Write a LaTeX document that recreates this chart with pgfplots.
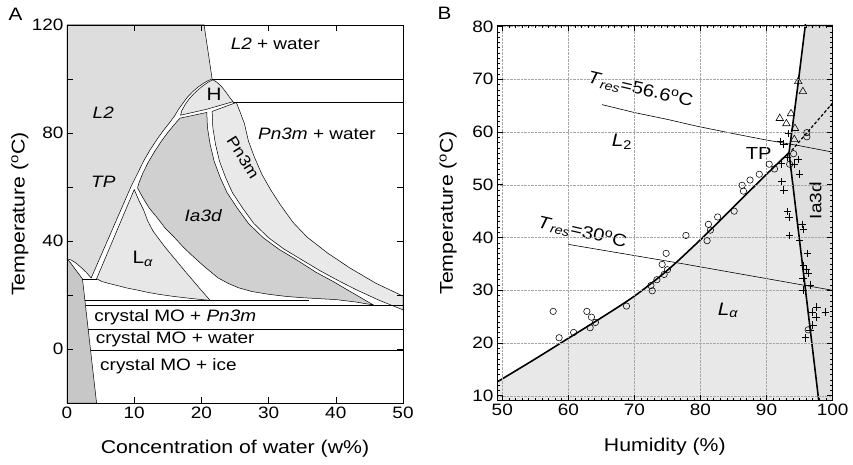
\documentclass[border=0pt]{standalone}
\usepackage{pgfplots}
\pgfplotsset{compat=1.18}
\usepackage{fontspec}
\setmainfont{Liberation Sans}[FakeStretch=1.15]
\definecolor{cL2}{gray}{0.865}
\definecolor{cIa}{gray}{0.815}
\definecolor{cLa}{gray}{0.905}
\definecolor{cPn}{gray}{0.915}
\definecolor{cH}{gray}{0.905}
\definecolor{cCr}{gray}{0.78}
\definecolor{cBLa}{gray}{0.91}
\definecolor{cBIa}{gray}{0.875}
\newcommand{\lbl}{\fontsize{16.5}{19}\selectfont}
\newcommand{\axl}{\fontsize{18.5}{21}\selectfont}
\begin{document}
\begin{tikzpicture}
\path[use as bounding box] (-67pt,-61pt) rectangle (786pt,403pt);
\pgfplotsset{
  common/.style={
    scale only axis, anchor=south west,
    tick align=inside, xtick pos=both, ytick pos=both,
    axis on top,
    /pgf/number format/assume math mode=true,
    tick label style={font=\fontsize{16.5}{19}\selectfont},
    axis line style={line width=0.8pt},
    every tick/.style={black, line width=0.6pt},
  }
}
% ---------------- Panel A ----------------
\begin{axis}[common, at={(0pt,0pt)}, width=336pt, height=378pt,
  xmin=0, xmax=50, ymin=-20, ymax=120,
  xtick={0,10,...,50}, ytick={0,40,80,120}, minor ytick={20,60,100},
  major tick length=6pt, minor tick length=6pt,
  xlabel={Concentration of water (w\%)},
  ylabel={Temperature (\textsuperscript{o}C)},
  every axis x label/.style={at={(axis description cs:0.5,-0.12)},anchor=center,font=\axl},
  every axis y label/.style={at={(axis description cs:-0.14,0.5)},rotate=90,anchor=center,font=\axl},
]
% L2
\addplot[fill=cL2, draw=black, line width=0.5pt] coordinates {
 (0,120)(20.4,120)(21.6,100)
 (21.0,99.4)(20.3,98.4)(19.5,97.0)(18.7,95.3)(18.0,93.5)(17.3,91.2)(16.6,88.8)(16.0,86.3)
 (15.2,83.6)(14.3,80.8)(13.3,77.3)(12.3,73.5)(11.4,69.6)(10.6,65.5)(9.9,62)(9.5,60.0)
 (3.6,26.3)(2.9,28.3)(2.1,30.2)(1.3,31.9)(0.6,33.0)(0,33.4)} -- cycle;
% crystal
\addplot[fill=cCr, draw=black, line width=0.5pt] coordinates {
 (0,33.4)(0.5,32.0)(1.0,30.3)(1.6,28.3)(2.3,26.0)(4.4,-20)(0,-20)} -- cycle;
% L alpha
\addplot[fill=cLa, draw=black, line width=0.5pt] coordinates {
 (10.0,59.0)(4.4,26.0)
 (5.2,25.0)(6.2,24.3)(7.5,23.5)(8.9,22.6)(10.5,21.8)(12.2,20.9)(13.8,20.2)(15.8,19.5)(17.8,18.9)(19.7,18.4)(21.3,18.0)
 (20.0,21.7)(18.8,25.2)(17.5,29.0)(16.3,32.6)(15.4,35.3)(14.5,38.0)(13.6,41.0)(12.8,43.7)(12.0,47.5)(11.4,51.5)(10.7,55.0)(10.1,58.5)} -- cycle;
% Ia3d
\addplot[fill=cIa, draw=black, line width=0.5pt] coordinates {
 (16.8,85.5)(16.0,83.2)(15.0,80.2)(14.0,76.8)(13.0,73.0)(12.1,69.2)(11.3,65.2)(10.7,61.5)(10.5,59.6)
 (11.3,56.0)(12.2,52.3)(13.3,49.0)(14.6,44.8)(16.1,41.0)(17.4,37.5)(18.8,34.2)(20.5,30.4)(22.5,26.3)(24.0,24.3)(25.5,22.7)(27.5,21.3)(29.9,20.3)(32.5,19.5)(35,19.0)(40,18.3)(43,17.4)(45.6,16.3)
 (42.0,21.5)(39.6,25.0)(37.0,28.5)(34.5,32.5)(31.5,37.0)(29.2,41.2)(27.0,46.5)(25.3,52.3)(23.8,58.0)(22.8,63.5)(21.9,69.5)(21.3,75.8)(20.9,82.0)(20.8,87.6)} -- cycle;
% Pn3m
\addplot[fill=cPn, draw=black, line width=0.5pt] coordinates {
 (21.6,88.0)(25.2,91.3)
 (25.8,87.5)(26.4,83.5)(27.0,77.0)(27.9,71.0)(29.0,64.7)(30.3,59.0)(31.7,53.6)(33.6,47.0)(35.7,41.5)(38.8,35.5)(42.1,30.0)(46.0,24.3)(50,19.6)
 (50,14.5)
 (46.5,18.0)(43.0,22.0)(40.4,25.3)(37.8,28.8)(35.3,32.5)(32.3,37.0)(30.0,41.2)(27.8,46.5)(26.1,52.3)(24.6,58.0)(23.6,63.5)(22.7,69.5)(22.1,75.8)(21.7,82.0)} -- cycle;
% H
\addplot[fill=cH, draw=black, line width=0.5pt] coordinates {
 (21.6,99.6)(21.0,98.8)(20.3,97.6)(19.6,96.2)(18.9,94.6)(18.2,92.7)(17.6,90.6)(17.1,88.4)(16.9,86.6)
 (20.8,88.8)(24.7,91.6)
 (24.2,93.2)(23.6,95.3)(23.0,97.2)(22.3,98.8)(21.8,99.6)} -- cycle;
% horizontal boundaries
\addplot[black, line width=0.5pt] coordinates {(21.6,100)(50,100)};
\addplot[black, line width=0.5pt] coordinates {(24.7,91.5)(50,91.5)};
\addplot[black, line width=0.5pt] coordinates {(2.3,26.0)(4.4,26.0)};
\addplot[black, line width=0.5pt] coordinates {(2.665,18.0)(36,18.0)};
\addplot[black, line width=0.5pt] coordinates {(2.757,16.1)(50,16.1)};
\addplot[black, line width=0.5pt] coordinates {(3.14,7.5)(50,7.5)};
\addplot[black, line width=0.5pt] coordinates {(3.50,-0.3)(50,-0.3)};
% labels
\node[font=\lbl] at (31,113) {\textit{L2} + water};
\node[font=\lbl] at (5.4,87.4) {\textit{L2}};
\node[font=\lbl] at (5.4,62) {\textit{TP}};
\node[font=\fontsize{18}{20}\selectfont] at (21.9,94.2) {H};
\node[font=\lbl] at (37.2,79.6) {\textit{Pn3m} + water};
\node[font=\fontsize{15.5}{18}\selectfont, rotate=-58, inner sep=0pt] at (26.2,70.9) {Pn3m};
\node[font=\lbl] at (20.3,49.3) {\textit{Ia3d}};
\node[font=\fontsize{18}{20}\selectfont] at (11.3,33.3) {L\textsubscript{\textit{α}}};
\node[font=\lbl] at (16.1,11.9) {crystal MO + \textit{Pn3m}};
\node[font=\lbl] at (16.1,3.6) {crystal MO + water};
\node[font=\lbl] at (15.1,-6.3) {crystal MO + ice};
\end{axis}
% ---------------- Panel B ----------------
\begin{axis}[common, at={(430pt,2.5pt)}, width=335.6pt, height=375.5pt,
  xmin=49.2, xmax=100, ymin=9.1, ymax=80.3,
  xtick={50,60,...,100}, ytick={10,20,...,80},
  minor x tick num=9, minor y tick num=9,
  major tick length=6pt, minor tick length=3pt,
  grid=major, major grid style={densely dotted, gray!70, line width=0.5pt},
  xlabel={Humidity (\%)},
  ylabel={Temperature (\textsuperscript{o}C)},
  every axis x label/.style={at={(axis description cs:0.5,-0.1225)},anchor=center,font=\axl},
  every axis y label/.style={at={(axis description cs:-0.146,0.5)},rotate=90,anchor=center,font=\axl},
]
\addplot[fill=cBLa, draw=none] coordinates {(49.2,9.1)(49.2,12.6)(55,17.0)(60,20.9)(65,24.8)(70,28.9)(75,33.8)(80,39.6)(85,45.8)(90,52.0)(93.4,56.1)(97.9,9.1)} -- cycle;
\addplot[fill=cBIa, draw=none] coordinates {(93.4,56.1)(94.6,67.5)(95.9,80.6)(100,80.6)(100,9.1)(97.9,9.1)} -- cycle;
% Tres lines
\addplot[black, line width=0.6pt] coordinates {(65.1,65.2)(70,63.7)(75,62.4)(79.5,61.1)(85,59.7)(89.5,58.6)(95,57.4)(100,56.2)};
\addplot[black, line width=0.6pt] coordinates {(60,38.7)(77,35.1)(100,30.0)};
% phase boundaries
\addplot[black, line width=1.6pt, smooth] coordinates {(49.2,12.6)(55,17.0)(60,20.9)(65,24.8)(70,28.9)(75,33.8)(80,39.6)(85,45.8)(90,52.0)(93.4,56.1)};
\addplot[black, line width=1.6pt, smooth] coordinates {(93.4,56.1)(94.6,67.5)(95.9,80.6)};
\addplot[black, line width=1.6pt] coordinates {(93.4,56.1)(97.9,9.1)};
\addplot[black, line width=1.2pt, dash pattern=on 3pt off 2pt] coordinates {(93.8,56.5)(100,65.5)};
% data
\addplot[only marks, mark=o, mark size=3.2pt, black, mark options={line width=0.55pt}] coordinates {
 (57.7,26.0)(58.6,21.0)(60.8,22.0)(62.8,26.0)(63.5,24.9)(63.3,22.9)(64.1,23.9)(68.8,27.0)
 (72.5,30.9)(72.7,29.9)(73.4,32.0)(74.2,34.9)(74.8,37.0)(74.5,33.0)(75.0,33.9)(77.8,40.4)
 (81.0,39.4)(81.2,42.5)(81.5,41.4)(82.6,43.9)(85.1,45.0)(86.3,49.9)(86.5,48.8)(87.5,50.9)
 (88.9,52.0)(90.4,53.9)(91.2,53.0)(93.5,53.9)(94.1,55.9)(96.1,59.9)(96.1,59.1)(96.3,22.5)};
\addplot[only marks, mark=+, mark size=3.8pt, black, mark options={line width=0.6pt}] coordinates {
 (92.1,58.2)(93.3,59.7)(92.6,57.7)(92.2,54.0)(93.1,55.3)(94.8,54.8)(94.2,53.9)(95.0,52.0)
 (92.3,50.6)(92.6,49.0)(93.2,44.9)(93.4,43.9)(95.4,42.5)(95.6,41.5)(93.5,40.4)(95.0,39.5)
 (96.2,37.0)(95.6,34.7)(96.0,33.9)(96.3,33.2)(95.5,32.2)(96.6,31.0)(95.5,30.0)(97.6,26.8)
 (96.9,25.9)(97.5,24.9)(98.9,25.9)(97.0,23.4)(96.6,22.5)(95.9,21.0)};
\addplot[only marks, mark=triangle, mark size=4.3pt, black, mark options={line width=0.55pt}] coordinates {
 (94.8,69.6)(95.5,67.7)(92.0,62.6)(93.0,61.6)(93.7,63.5)(94.3,60.7)(94.2,58.6)};
% labels
\node[font=\fontsize{17.5}{20}\selectfont, rotate=-13] at (70.9,68.0) {\textit{T}\textsubscript{\textit{res}}=56.6\textsuperscript{o}C};
\node[font=\fontsize{17.5}{20}\selectfont, rotate=-13] at (62.1,41.0) {\textit{T}\textsubscript{\textit{res}}=30\textsuperscript{o}C};
\node[font=\fontsize{18}{20}\selectfont] at (68.1,58.1) {\textit{L}\textsubscript{2}};
\node[font=\fontsize{17.5}{20}\selectfont] at (88.8,55.9) {TP};
\node[font=\fontsize{16.5}{19}\selectfont, rotate=90] at (97.4,47.0) {Ia3d};
\node[font=\fontsize{18}{20}\selectfont] at (84.2,26.2) {\textit{L}\textsubscript{\textit{α}}};
\end{axis}
\node[font=\fontsize{18}{20}\selectfont] at (-51.5pt,389pt) {A};
\node[font=\fontsize{18}{20}\selectfont] at (377.5pt,390pt) {B};
\end{tikzpicture}
\end{document}
